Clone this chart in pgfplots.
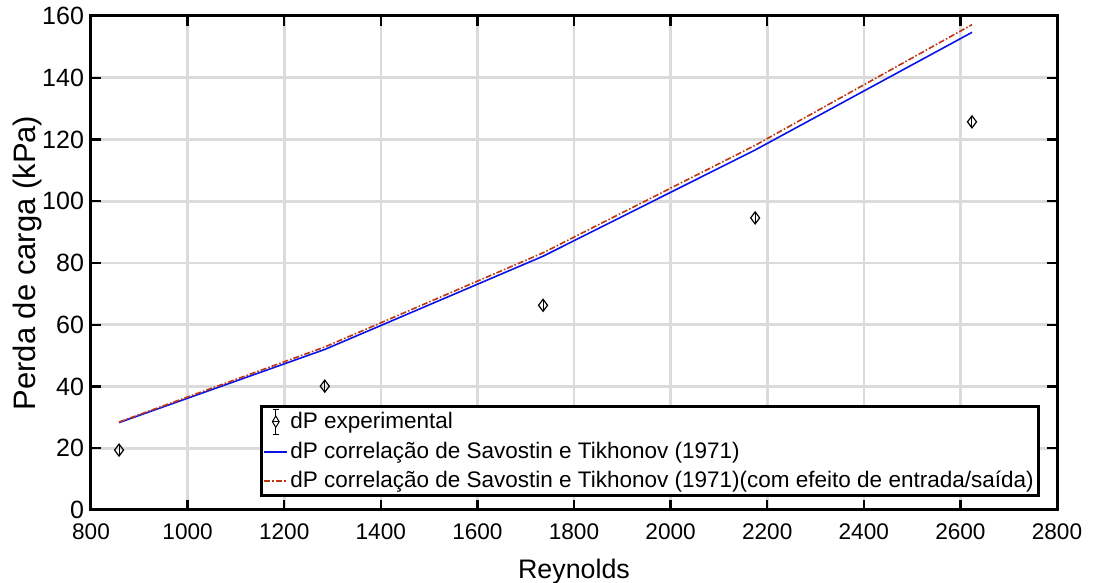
\documentclass[border=0pt]{standalone}
\usepackage{pgfplots}
\pgfplotsset{compat=1.18}
\usepackage{fontspec}
\setmainfont{Liberation Sans}
\definecolor{mblue}{RGB}{10,20,230}
\definecolor{mred}{RGB}{190,55,20}
\pgfplotsset{
  shortline/.style={legend image code/.code={\draw[##1] (0cm,0cm)--(0.40cm,0cm);}},
  expleg/.style={legend image code/.code={
    \draw[black, line width=0.5pt] (0.2cm,-0.22cm)--(0.2cm,0.22cm);
    \draw[black, line width=0.5pt] (0.15cm,0.22cm)--(0.25cm,0.22cm);
    \draw[black, line width=0.5pt] (0.15cm,-0.22cm)--(0.25cm,-0.22cm);
    \draw[black, line width=0.5pt, fill=white] (0.2cm,-0.1cm)--(0.26cm,0cm)--(0.2cm,0.1cm)--(0.14cm,0cm)--cycle;
    \draw[black, line width=0.5pt] (0.15cm,0cm)--(0.25cm,0cm);
  }},
}
\begin{document}
\begin{tikzpicture}
\useasboundingbox (-45.5pt,-36.5pt) rectangle (501pt,255pt);
\begin{axis}[
  at={(0pt,0pt)}, anchor=origin,
  scale only axis,
  width=483pt, height=247pt,
  xmin=800, xmax=2800, ymin=0, ymax=160,
  xtick={800,1000,...,2800}, ytick={0,20,...,160},
  /pgf/number format/assume math mode=true,
  /pgf/number format/1000 sep={},
  xticklabel style={font=\fontsize{11.3}{13}\selectfont, yshift=-3.5pt},
  yticklabel style={font=\fontsize{12.5}{14}\selectfont},
  xlabel={Reynolds}, ylabel={Perda de carga (kPa)},
  xlabel style={font=\fontsize{13.4}{15}\selectfont, at={(axis description cs:0.5,-0.125)}, anchor=center},
  ylabel style={font=\fontsize{15.5}{17}\selectfont, at={(axis description cs:-0.066,0.5)}, anchor=center},
  axis line style={line width=1.5pt},
  tick align=inside, major tick length=5pt,
  tick style={line width=1.2pt, black},
  grid=major,
  major grid style={line width=1.3pt, black!14},
  legend style={at={(0.982,0.027)}, anchor=south east, draw=black, line width=1.5pt,
    font=\fontsize{11.25}{13}\selectfont, inner sep=1pt, row sep=2.5pt,
    nodes={inner sep=1.2pt, line width=0.6pt}},
  legend cell align=left,
]
\addplot[black, only marks, mark=diamond, mark size=3pt, mark options={line width=0.6pt}, expleg,
  error bars/.cd, y dir=both, y explicit, error mark=-, error mark options={mark size=2pt, line width=0.5pt},
  error bar style={line width=0.5pt},
  ] coordinates {
  (858,19.4) +- (0,0.4)
  (1284,40.1) +- (0,0.4)
  (1736,66.3) +- (0,0.4)
  (2175,94.6) +- (0,0.4)
  (2624,125.7) +- (0,0.4)
};
\addlegendentry{dP experimental}
\addplot[mblue, line width=0.8pt, shortline] coordinates {
  (858,28.3) (1284,52.0) (1736,82.2) (2175,116.6) (2624,154.7)
};
\addlegendentry{dP correlação de Savostin e Tikhonov (1971)}
\addplot[mred, line width=0.8pt, dash pattern=on 3pt off 1pt on 0.8pt off 1pt, shortline] coordinates {
  (858,28.5) (1284,52.8) (1736,83.3) (2175,118.1) (2624,157.2)
};
\addlegendentry{dP correlação de Savostin e Tikhonov (1971)(com efeito de entrada/saída)}
\end{axis}
\end{tikzpicture}
\end{document}
